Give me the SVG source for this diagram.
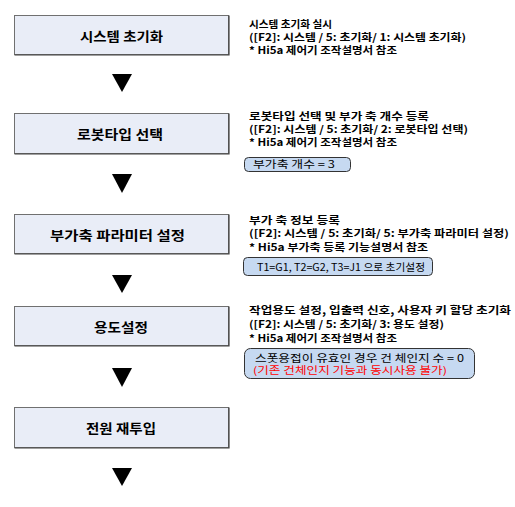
<svg xmlns="http://www.w3.org/2000/svg" width="515" height="507" viewBox="0 0 515 507">
<style>
.box{fill:#E9EDF7;stroke:#707070;stroke-width:1}
.shadow{fill:none;stroke:#404040;stroke-width:1.2}
.t{font-family:"Noto Sans CJK KR","Liberation Sans",sans-serif;font-weight:bold;font-size:13px;fill:#000;text-anchor:middle;dominant-baseline:central}
.n{font-family:"Noto Sans CJK KR","Liberation Sans",sans-serif;font-weight:bold;font-size:10px;fill:#000}
.ib{fill:#C6D9F1;stroke:#333;stroke-width:1}
.it{font-family:"Noto Sans CJK KR","Liberation Sans",sans-serif;font-size:10px;fill:#000}
.red{fill:#FF0000}
.arr{fill:#000}
</style>
<rect width="515" height="507" fill="#fff"/>
<g id="connectors">
<polygon class="arr" points="112,74 132,74 122,92"/>
<polygon class="arr" points="112,174 132,174 122,193"/>
<polygon class="arr" points="112,275 132,275 122,293"/>
<polygon class="arr" points="112,368 132,368 122,387"/>
<polygon class="arr" points="112,468 132,468 122,486"/>
</g>
<g id="n1">
<rect class="box" x="14.5" y="15.5" width="214" height="39"/>
<path class="shadow" d="M14.5,55 H229 V15.5"/>
<text class="t" x="121.5" y="35" textLength="83" lengthAdjust="spacingAndGlyphs">시스템 초기화</text>
</g>
<g id="n2">
<rect class="box" x="14.5" y="113.5" width="214" height="40"/>
<path class="shadow" d="M14.5,154 H229 V113.5"/>
<text class="t" x="120" y="133.5" textLength="86" lengthAdjust="spacingAndGlyphs">로봇타입 선택</text>
</g>
<g id="n3">
<rect class="box" x="14.5" y="214.5" width="214" height="39"/>
<path class="shadow" d="M14.5,254 H229 V214.5"/>
<text class="t" x="117.5" y="234" textLength="135" lengthAdjust="spacingAndGlyphs">부가축 파라미터 설정</text>
</g>
<g id="n4">
<rect class="box" x="14.5" y="306.5" width="214" height="39"/>
<path class="shadow" d="M14.5,346 H229 V306.5"/>
<text class="t" x="121" y="326" textLength="54" lengthAdjust="spacingAndGlyphs">용도설정</text>
</g>
<g id="n5">
<rect class="box" x="14.5" y="407.5" width="214" height="40"/>
<path class="shadow" d="M14.5,448 H229 V407.5"/>
<text class="t" x="121" y="427.5" textLength="70" lengthAdjust="spacingAndGlyphs">전원 재투입</text>
</g>
<g id="note1">
<text class="n" x="249" y="28" textLength="83" lengthAdjust="spacingAndGlyphs">시스템 초기화 실시</text>
<text class="n" x="249" y="41" textLength="217" lengthAdjust="spacingAndGlyphs">([F2]: 시스템 / 5: 초기화/ 1: 시스템 초기화)</text>
<text class="n" x="249" y="54" textLength="148" lengthAdjust="spacingAndGlyphs">* Hi5a 제어기 조작설명서 참조</text>
</g>
<g id="note2">
<text class="n" x="249" y="120" textLength="180" lengthAdjust="spacingAndGlyphs">로봇타입 선택 및 부가 축 개수 등록</text>
<text class="n" x="249" y="133" textLength="219" lengthAdjust="spacingAndGlyphs">([F2]: 시스템 / 5: 초기화/ 2: 로봇타입 선택)</text>
<text class="n" x="249" y="146" textLength="148" lengthAdjust="spacingAndGlyphs">* Hi5a 제어기 조작설명서 참조</text>
<rect class="ib" x="244.5" y="157.5" width="106" height="14" rx="4"/>
<text class="it" x="253" y="168" textLength="82" lengthAdjust="spacingAndGlyphs">부가축 개수 = 3</text>
</g>
<g id="note3">
<text class="n" x="249" y="224" textLength="91" lengthAdjust="spacingAndGlyphs">부가 축 정보 등록</text>
<text class="n" x="249" y="237" textLength="260" lengthAdjust="spacingAndGlyphs">([F2]: 시스템 / 5: 초기화/ 5: 부가축 파라미터 설정)</text>
<text class="n" x="249" y="251" textLength="179" lengthAdjust="spacingAndGlyphs">* Hi5a 부가축 등록 기능설명서 참조</text>
<rect class="ib" x="243.5" y="257.5" width="189" height="18" rx="4"/>
<text class="it" x="257" y="271" textLength="168" lengthAdjust="spacingAndGlyphs">T1=G1,  T2=G2,  T3=J1 으로 초기설정</text>
</g>
<g id="note4">
<text class="n" x="249" y="314" textLength="262" lengthAdjust="spacingAndGlyphs">작업용도 설정, 입출력 신호, 사용자 키 할당 초기화</text>
<text class="n" x="249" y="328" textLength="195" lengthAdjust="spacingAndGlyphs">([F2]: 시스템 / 5: 초기화/ 3: 용도 설정)</text>
<text class="n" x="249" y="342" textLength="148" lengthAdjust="spacingAndGlyphs">* Hi5a 제어기 조작설명서 참조</text>
<rect class="ib" x="244.5" y="348.5" width="230" height="30" rx="6"/>
<text class="it" x="255" y="362" textLength="209" lengthAdjust="spacingAndGlyphs">스폿용접이 유효인 경우 건 체인지 수 = 0</text>
<text class="it red" x="253" y="374" textLength="194" lengthAdjust="spacingAndGlyphs">(기존 건체인지 기능과 동시사용 불가)</text>
</g>
</svg>
